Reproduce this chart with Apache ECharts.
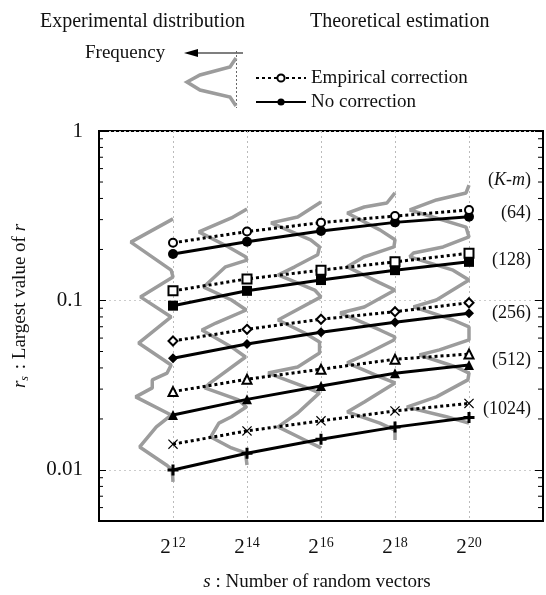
<!DOCTYPE html>
<html>
<head>
<meta charset="utf-8">
<script src="https://cdn.jsdelivr.net/npm/echarts@6/dist/echarts.min.js"></script>
<style>
  html, body { margin: 0; padding: 0; background: #fff; }
  #chart { width: 546px; height: 595px; }
</style>
</head>
<body>
<div id="chart"></div>
<script>
// s = 2^n, x axis holds the exponent n
const sExp = [12, 14, 16, 18, 20];
const kmLabels = ['(64)', '(128)', '(256)', '(512)', '(1024)'];
const yTickLabels = {'0': '1', '-1': '0.1', '-2': '0.01'};
const minorTickVals = [0.006, 0.007, 0.008, 0.009,
    0.02, 0.03, 0.04, 0.05, 0.06, 0.07, 0.08, 0.09,
    0.2, 0.3, 0.4, 0.5, 0.6, 0.7, 0.8, 0.9];

// theoretical estimation, empirical correction (dotted, open markers)
const emp64 = [0.219, 0.255, 0.288, 0.315, 0.342];
const emp128 = [0.114, 0.134, 0.151, 0.169, 0.190];
const emp256 = [0.0577, 0.0676, 0.0775, 0.0859, 0.0970];
const emp512 = [0.0290, 0.0343, 0.0393, 0.0450, 0.0483];
const emp1024 = [0.0142, 0.0170, 0.0195, 0.0223, 0.0247];

// theoretical estimation, no correction (solid, filled markers)
const noc64 = [0.188, 0.222, 0.257, 0.289, 0.312];
const noc128 = [0.0932, 0.114, 0.132, 0.151, 0.169];
const noc256 = [0.0456, 0.0554, 0.0649, 0.0743, 0.0841];
const noc512 = [0.0211, 0.0261, 0.0313, 0.0372, 0.0416];
const noc1024 = [0.0100, 0.01255, 0.0152, 0.0179, 0.0204];

// experimental distributions: [baseline - frequency, r]
const dist12 = [[12.0, 0.303], [10.86, 0.221], [11.95, 0.151], [12.0, 0.1376], [11.12, 0.105],
    [11.95, 0.0800], [11.07, 0.0561], [11.95, 0.0416], [11.84, 0.0373], [11.44, 0.0340],
    [11.44, 0.0305], [10.99, 0.0270], [11.95, 0.0211], [11.55, 0.01795], [11.10, 0.01367],
    [11.82, 0.01071], [11.98, 0.0100], [12.0, 0.0085]];
const dist14 = [[14.0, 0.347], [13.58, 0.307], [12.70, 0.254], [13.50, 0.207], [13.96, 0.181],
    [14.0, 0.173], [13.42, 0.158], [12.83, 0.120], [13.58, 0.1007], [13.98, 0.0879],
    [13.16, 0.0736], [12.78, 0.0670], [13.58, 0.0532], [13.96, 0.0464], [12.97, 0.0322],
    [12.86, 0.0305], [13.77, 0.0259], [13.98, 0.0235], [13.58, 0.0206], [13.24, 0.0189],
    [13.02, 0.01566], [13.58, 0.01349], [13.96, 0.0126], [14.0, 0.0107]];
const dist16 = [[16.0, 0.381], [15.37, 0.311], [14.65, 0.287], [15.72, 0.228], [15.96, 0.207],
    [15.91, 0.186], [15.29, 0.158], [14.84, 0.1414], [15.83, 0.1153], [16.0, 0.105],
    [15.19, 0.0844], [14.84, 0.0767], [15.56, 0.0643], [15.96, 0.0569], [15.96, 0.0490],
    [15.37, 0.0405], [14.57, 0.0373], [15.56, 0.0309], [15.96, 0.0285], [15.37, 0.0217],
    [14.84, 0.01795], [15.56, 0.01503], [16.0, 0.01349]];
const dist18 = [[18.0, 0.431], [17.78, 0.376], [17.17, 0.356], [16.71, 0.328], [17.59, 0.261],
    [18.0, 0.228], [17.97, 0.207], [17.17, 0.181], [16.71, 0.158], [17.59, 0.127],
    [18.0, 0.1153], [17.17, 0.0916], [16.52, 0.0844], [17.59, 0.0670], [18.0, 0.0609],
    [17.97, 0.0585], [17.17, 0.0477], [16.71, 0.0428], [17.59, 0.0354], [18.0, 0.0326],
    [17.17, 0.0252], [16.71, 0.0220], [17.59, 0.0189], [18.0, 0.0172], [18.0, 0.01503]];
const dist20 = [[20.0, 0.480], [19.92, 0.431], [19.12, 0.392], [18.40, 0.342], [19.92, 0.271],
    [20.0, 0.237], [19.30, 0.207], [18.50, 0.1905], [18.40, 0.181], [19.57, 0.151],
    [20.0, 0.132], [19.12, 0.1007], [18.50, 0.0916], [19.57, 0.0767], [20.0, 0.0698],
    [20.0, 0.0585], [19.20, 0.0511], [18.66, 0.0477], [19.65, 0.0405], [20.0, 0.0373],
    [19.97, 0.0340], [19.12, 0.0270], [18.32, 0.0235], [19.39, 0.0206], [20.0, 0.0189]];

const SERIF = 'Liberation Serif';
const EMP = 'Empirical correction';
const NOC = 'No correction';

const crossPath = 'path://M0,1 L1,0 L6,5 L11,0 L12,1 L7,6 L12,11 L11,12 L6,7 L1,12 L0,11 L5,6 Z';
const plusPath = 'path://M4,0 H7 V4 H11 V7 H7 V11 H4 V7 H0 V4 H4 Z';

function pairs(vals) {
    return vals.map((v, i) => [sExp[i], v]);
}

function empSeries(vals, symbol, size) {
    return {
        name: EMP, type: 'line', data: pairs(vals), z: 4,
        symbol: symbol, symbolSize: size, showSymbol: true,
        lineStyle: {color: '#000', width: 3, type: [3, 3]},
        itemStyle: {color: '#000', borderWidth: 1.3}
    };
}

function nocSeries(vals, symbol, size) {
    return {
        name: NOC, type: 'line', data: pairs(vals), z: 3,
        symbol: symbol, symbolSize: size, showSymbol: true,
        lineStyle: {color: '#000', width: 3, type: 'solid'},
        itemStyle: {color: '#000'}
    };
}

function distSeries(pts) {
    return {
        type: 'line', data: pts, z: 1, symbol: 'none', silent: true,
        lineStyle: {color: '#9c9c9c', width: 3.5}
    };
}

function yLabel(v) {
    const e = Math.log10(v);
    if (Math.abs(e - Math.round(e)) > 1e-6) return '';
    return yTickLabels[String(Math.round(e))] || '';
}

const chart = echarts.init(document.getElementById('chart'));

chart.setOption({
    animation: false,
    backgroundColor: '#fff',
    grid: {
        left: 99, top: 131, right: -3, bottom: 74,
        show: true, borderColor: '#000', borderWidth: 2
    },
    legend: {
        data: [EMP, NOC],
        orient: 'vertical',
        left: 250, top: 61,
        itemWidth: 50, itemHeight: 9, itemGap: 0,
        selectedMode: false,
        textStyle: {fontFamily: SERIF, fontSize: 19, color: '#111', lineHeight: 24}
    },
    xAxis: {
        type: 'value', min: 10, max: 22, interval: 2,
        axisLine: {lineStyle: {color: '#000', width: 2}},
        axisTick: {show: false},
        splitLine: {show: true, lineStyle: {color: '#bbb', type: [2, 3], width: 1}},
        axisLabel: {
            margin: 15,
            formatter: v => (v === 10 || v === 22) ? '' : '{b|2}{s|' + v + '}',
            rich: {
                b: {fontFamily: SERIF, fontSize: 21, color: '#111', lineHeight: 22},
                s: {fontFamily: SERIF, fontSize: 14, color: '#111', lineHeight: 14,
                    verticalAlign: 'top', padding: [0, 0, 0, 1]}
            }
        }
    },
    yAxis: [{
        type: 'log', logBase: 10, min: 0.005, max: 1,
        axisLine: {lineStyle: {color: '#000', width: 2}},
        axisTick: {inside: true, length: 7, lineStyle: {color: '#000', width: 1}},
        splitLine: {show: true, lineStyle: {color: '#ccc', type: [2, 3], width: 1}},
        axisLabel: {
            margin: 16, formatter: yLabel,
            fontFamily: SERIF, fontSize: 21, color: '#111'
        }
    }, {
        type: 'log', logBase: 10, min: 0.005, max: 1, position: 'right',
        axisLine: {show: true, lineStyle: {color: '#000', width: 2}},
        axisTick: {inside: true, length: 8, lineStyle: {color: '#000', width: 1}},
        splitLine: {show: false},
        axisLabel: {show: false}
    }],
    graphic: [
        {type: 'text', x: 40, y: 22, style: {text: 'Experimental distribution', fill: '#111',
            font: '20px "Liberation Serif"', align: 'left', verticalAlign: 'middle',
            textAlign: 'left', textVerticalAlign: 'middle'}},
        {type: 'text', x: 310, y: 22, style: {text: 'Theoretical estimation', fill: '#111',
            font: '20px "Liberation Serif"', align: 'left', verticalAlign: 'middle',
            textAlign: 'left', textVerticalAlign: 'middle'}},
        {type: 'text', x: 85, y: 53, style: {text: 'Frequency', fill: '#111',
            font: '19px "Liberation Serif"', align: 'left', verticalAlign: 'middle',
            textAlign: 'left', textVerticalAlign: 'middle'}},
        {type: 'line', shape: {x1: 243, y1: 53, x2: 192, y2: 53}, style: {stroke: '#000', lineWidth: 1.2}},
        {type: 'polygon', shape: {points: [[184, 53], [198, 49], [198, 57]]}, style: {fill: '#000'}},
        {type: 'line', shape: {x1: 236.5, y1: 51, x2: 236.5, y2: 108},
            style: {stroke: '#666', lineWidth: 1, lineDash: [2, 2]}},
        {type: 'polyline', shape: {points: [[236, 58], [230, 67], [200, 75], [187, 82], [200, 90],
            [230, 97], [236, 106]]}, style: {stroke: '#9c9c9c', lineWidth: 3.5, fill: null}},
        {type: 'text', x: 531, y: 180, style: {
            text: '{n|(}{i|K}{n|-}{i|m}{n|)}', align: 'right', verticalAlign: 'middle',
            textAlign: 'right', textVerticalAlign: 'middle',
            rich: {
                n: {fontFamily: SERIF, fontSize: 18, fill: '#111'},
                i: {fontFamily: SERIF, fontSize: 18, fontStyle: 'italic', fill: '#111'}
            }}},
        {type: 'text', x: 531, y: 213, style: {text: kmLabels[0], fill: '#111', font: '18px "Liberation Serif"',
            align: 'right', verticalAlign: 'middle', textAlign: 'right', textVerticalAlign: 'middle'}},
        {type: 'text', x: 531, y: 260, style: {text: kmLabels[1], fill: '#111', font: '18px "Liberation Serif"',
            align: 'right', verticalAlign: 'middle', textAlign: 'right', textVerticalAlign: 'middle'}},
        {type: 'text', x: 531, y: 313, style: {text: kmLabels[2], fill: '#111', font: '18px "Liberation Serif"',
            align: 'right', verticalAlign: 'middle', textAlign: 'right', textVerticalAlign: 'middle'}},
        {type: 'text', x: 531, y: 360, style: {text: kmLabels[3], fill: '#111', font: '18px "Liberation Serif"',
            align: 'right', verticalAlign: 'middle', textAlign: 'right', textVerticalAlign: 'middle'}},
        {type: 'text', x: 531, y: 409, style: {text: kmLabels[4], fill: '#111', font: '18px "Liberation Serif"',
            align: 'right', verticalAlign: 'middle', textAlign: 'right', textVerticalAlign: 'middle'}},
        // axis titles
        {type: 'text', x: 317, y: 582, style: {
            text: '{i|s}{n| : Number of random vectors}', align: 'center', verticalAlign: 'middle',
            textAlign: 'center', textVerticalAlign: 'middle',
            rich: {
                n: {fontFamily: SERIF, fontSize: 19, fill: '#111'},
                i: {fontFamily: SERIF, fontSize: 19, fontStyle: 'italic', fill: '#111'}
            }}},
        {type: 'text', x: 20, y: 306, rotation: Math.PI / 2, style: {
            text: '{i|r}{sub|s}{n| : Largest value of }{i|r}', align: 'center', verticalAlign: 'middle',
            textAlign: 'center', textVerticalAlign: 'middle',
            rich: {
                n: {fontFamily: SERIF, fontSize: 19, fill: '#111', lineHeight: 22},
                i: {fontFamily: SERIF, fontSize: 19, fontStyle: 'italic', fill: '#111', lineHeight: 22},
                sub: {fontFamily: SERIF, fontSize: 12, fontStyle: 'italic', fill: '#111',
                    lineHeight: 12, verticalAlign: 'bottom', padding: [0, 2, 0, 0]}
            }}}
    ],
    series: [
        distSeries(dist12), distSeries(dist14), distSeries(dist16),
        distSeries(dist18), distSeries(dist20),
        empSeries(emp64, 'emptyCircle', 8),
        nocSeries(noc64, 'circle', 10),
        empSeries(emp128, 'emptyRect', 9),
        nocSeries(noc128, 'rect', 10),
        empSeries(emp256, 'emptyDiamond', 9),
        nocSeries(noc256, 'diamond', 10),
        empSeries(emp512, 'emptyTriangle', 9),
        nocSeries(noc512, 'triangle', 10),
        empSeries(emp1024, crossPath, 10),
        nocSeries(noc1024, plusPath, 11),
        {
            type: 'custom', silent: true, z: 5,
            data: minorTickVals.map(v => [10, v]),
            encode: {x: 0, y: 1},
            renderItem: function (params, api) {
                const y = api.coord([10, api.value(1)])[1];
                const x0 = params.coordSys.x;
                const x1 = params.coordSys.x + params.coordSys.width;
                return {
                    type: 'group',
                    children: [
                        {type: 'line', shape: {x1: x0, y1: y, x2: x0 + 4, y2: y},
                            style: {stroke: '#000', lineWidth: 1}},
                        {type: 'line', shape: {x1: x1 - 5, y1: y, x2: x1, y2: y},
                            style: {stroke: '#000', lineWidth: 1}}
                    ]
                };
            }
        }
    ]
});
</script>
</body>
</html>
